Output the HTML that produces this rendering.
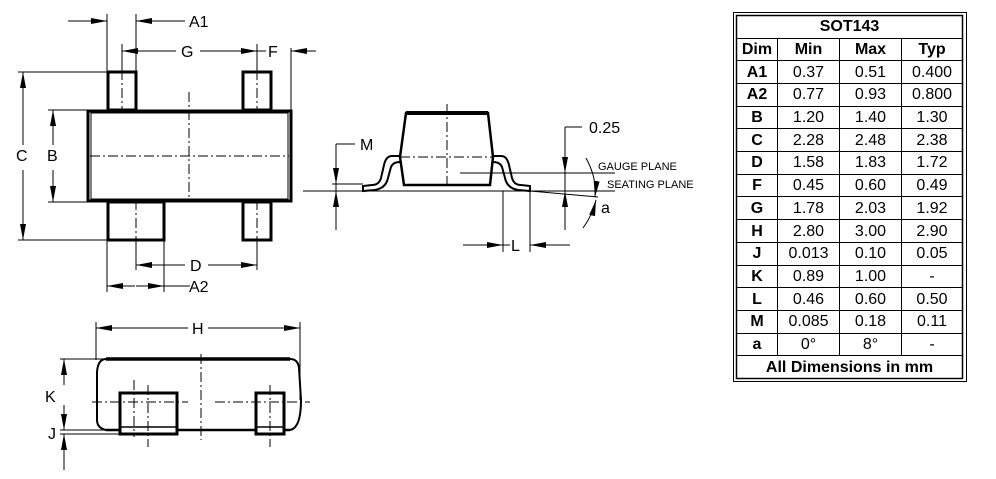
<!DOCTYPE html>
<html><head><style>
body{margin:0;background:#fff;width:996px;height:479px;overflow:hidden}
svg{position:absolute;left:0;top:0}
text{font-family:"Liberation Sans",Arial,sans-serif;fill:#000}
.t{font-size:16px}
td{border:1px solid #000;padding:0;height:21px;line-height:21px}
tr:first-child td{border-top:none}
td:first-child{border-left:none}
td:last-child{border-right:none}
tr:last-child td{border-bottom:none}
td:nth-child(2){width:61px}td:nth-child(3){width:61px}
</style></head><body>
<svg width="996" height="479" viewBox="0 0 996 479">
<defs>
<marker id="a" viewBox="0 0 16 6" refX="16" refY="3" markerWidth="16" markerHeight="6" markerUnits="userSpaceOnUse" orient="auto"><path d="M0,0L16,3L0,6z" fill="#000"/></marker>
</defs>
<g stroke="#000" fill="none">
<!-- top view -->
<rect x="108" y="72" width="28" height="38" stroke-width="3"/>
<rect x="243" y="72" width="28" height="38" stroke-width="3"/>
<rect x="108" y="202" width="56" height="38" stroke-width="3"/>
<rect x="243" y="202" width="28" height="38" stroke-width="3"/>
<rect x="88" y="111" width="203" height="90" stroke-width="3" fill="#fff"/>
<rect x="91" y="113" width="197" height="86" stroke-width="1"/>
<g stroke-width="1" stroke-dasharray="10,3,2,3">
<line x1="189" y1="92" x2="189" y2="200"/>
<line x1="90" y1="156" x2="289" y2="156"/>
<line x1="122" y1="70" x2="122" y2="112"/>
<line x1="257" y1="70" x2="257" y2="112"/>
<line x1="136" y1="200" x2="136" y2="240"/>
<line x1="257" y1="200" x2="257" y2="240"/>
</g>
<g stroke-width="1">
<line x1="107" y1="14" x2="107" y2="72"/><line x1="136" y1="14" x2="136" y2="72"/>
<line x1="68" y1="21" x2="107" y2="21" marker-end="url(#a)"/>
<line x1="185" y1="21" x2="136" y2="21" marker-end="url(#a)"/>
<line x1="122" y1="44" x2="122" y2="72"/><line x1="257" y1="44" x2="257" y2="72"/>
<line x1="176" y1="51" x2="122" y2="51" marker-end="url(#a)"/>
<line x1="200" y1="51" x2="257" y2="51" marker-end="url(#a)"/>
<line x1="257" y1="51" x2="266" y2="51"/>
<line x1="291" y1="48" x2="291" y2="110"/>
<line x1="316" y1="51" x2="291" y2="51" marker-end="url(#a)"/>
<line x1="18" y1="72" x2="108" y2="72"/><line x1="18" y1="240" x2="108" y2="240"/>
<line x1="23" y1="145" x2="23" y2="72" marker-end="url(#a)"/>
<line x1="23" y1="170" x2="23" y2="240" marker-end="url(#a)"/>
<line x1="48" y1="110" x2="88" y2="110"/><line x1="48" y1="202" x2="88" y2="202"/>
<line x1="53" y1="145" x2="53" y2="110" marker-end="url(#a)"/>
<line x1="53" y1="170" x2="53" y2="202" marker-end="url(#a)"/>
<line x1="303" y1="191" x2="345" y2="191"/>
<line x1="136" y1="240" x2="136" y2="270"/><line x1="257" y1="240" x2="257" y2="270"/>
<line x1="185" y1="265" x2="136" y2="265" marker-end="url(#a)"/>
<line x1="208" y1="265" x2="257" y2="265" marker-end="url(#a)"/>
<line x1="107" y1="240" x2="107" y2="292"/><line x1="164" y1="240" x2="164" y2="292"/>
<line x1="135" y1="286" x2="107" y2="286" marker-end="url(#a)"/>
<line x1="136" y1="286" x2="164" y2="286" marker-end="url(#a)"/>
<line x1="164" y1="286" x2="190" y2="286"/>
</g>
<!-- side view -->
<path d="M406,113L488,113L493,157L490,185L404,185L400,157Z" stroke-width="2.5" fill="#fff"/>
<line x1="406" y1="113" x2="488" y2="113" stroke-width="4"/>
<path d="M400,156L392,156Q386,156 384,165L381,178Q379,185 372,185L363,186L363,191L375,190Q386,188 388,178L391,167Q393,162 400,162" stroke-width="2"/>
<path d="M493,156L501,156Q507,156 509,165L512,178Q514,185 521,185L530,186L530,191L518,190Q507,188 505,178L502,167Q500,162 493,162" stroke-width="2"/>
<g stroke-width="1">
<line x1="447" y1="104" x2="447" y2="188" stroke-dasharray="10,3,2,3"/>
<line x1="400" y1="157" x2="493" y2="157" stroke-dasharray="10,3,2,3"/>
<line x1="320" y1="191" x2="615" y2="191"/>
<line x1="460" y1="173" x2="615" y2="173"/>
<line x1="530" y1="191" x2="598" y2="197"/>
<line x1="355" y1="144" x2="336" y2="144"/><line x1="336" y1="144" x2="336" y2="230"/>
<line x1="336" y1="160" x2="336" y2="184" marker-end="url(#a)"/>
<line x1="336" y1="215" x2="336" y2="191" marker-end="url(#a)"/>
<line x1="332" y1="184" x2="363" y2="184"/>
<line x1="582" y1="127" x2="565" y2="127"/><line x1="565" y1="127" x2="565" y2="230"/>
<line x1="565" y1="150" x2="565" y2="173" marker-end="url(#a)"/>
<line x1="565" y1="212" x2="565" y2="191" marker-end="url(#a)"/>
<path d="M586,158Q597,178 595,197" marker-end="url(#a)"/>
<path d="M583,228Q592,216 596,200" marker-end="url(#a)"/>
<line x1="503" y1="191" x2="503" y2="252"/><line x1="530" y1="191" x2="530" y2="252"/>
<line x1="463" y1="245" x2="503" y2="245" marker-end="url(#a)"/>
<line x1="570" y1="245" x2="530" y2="245" marker-end="url(#a)"/>
<line x1="503" y1="245" x2="510" y2="245"/>
</g>
<!-- bottom view -->
<path d="M106,359L290,359Q298,359 299,368L301,400Q301,428 290,430L106,430Q97,428 97,420L97,372Q98,359 106,359Z" stroke-width="2"/>
<line x1="106" y1="359" x2="290" y2="359" stroke-width="3.5"/>
<line x1="106" y1="430" x2="290" y2="430" stroke-width="2.5"/>
<rect x="120" y="393" width="57" height="41" stroke-width="3" fill="#fff"/>
<rect x="256" y="393" width="28" height="41" stroke-width="3" fill="#fff"/>
<line x1="120" y1="427" x2="177" y2="427" stroke-width="1.5"/>
<line x1="256" y1="427" x2="284" y2="427" stroke-width="1.5"/>
<g stroke-width="1">
<line x1="201" y1="354" x2="201" y2="440" stroke-dasharray="10,3,2,3"/>
<line x1="92" y1="402" x2="188" y2="402" stroke-dasharray="10,3,2,3"/>
<line x1="215" y1="402" x2="310" y2="402" stroke-dasharray="10,3,2,3"/>
<line x1="134" y1="380" x2="134" y2="437" stroke-dasharray="10,3,2,3"/>
<line x1="148" y1="385" x2="148" y2="447" stroke-dasharray="10,3,2,3"/>
<line x1="270" y1="385" x2="270" y2="447" stroke-dasharray="10,3,2,3"/>
<line x1="96" y1="322" x2="96" y2="360"/><line x1="300" y1="322" x2="300" y2="400"/>
<line x1="188" y1="328" x2="96" y2="328" marker-end="url(#a)"/>
<line x1="208" y1="328" x2="300" y2="328" marker-end="url(#a)"/>
<line x1="60" y1="359" x2="106" y2="359"/>
<line x1="60" y1="430" x2="120" y2="430"/><line x1="60" y1="434" x2="120" y2="434"/>
<line x1="64" y1="385" x2="64" y2="359" marker-end="url(#a)"/>
<line x1="64" y1="405" x2="64" y2="430" marker-end="url(#a)"/>
<line x1="64" y1="470" x2="64" y2="434" marker-end="url(#a)"/>
</g>
</g>
<g class="t">
<text x="189" y="27">A1</text>
<text x="181" y="57">G</text>
<text x="268" y="57">F</text>
<text x="16" y="161">C</text>
<text x="47" y="161">B</text>
<text x="190" y="271">D</text>
<text x="189" y="292">A2</text>
<text x="360" y="150">M</text>
<text x="589" y="133">0.25</text>
<text x="601" y="213">a</text>
<text x="511" y="251">L</text>
<text x="192" y="334">H</text>
<text x="45" y="402">K</text>
<text x="48" y="439">J</text>
</g>
<text x="598" y="170" style="font-size:11px">GAUGE PLANE</text>
<text x="607" y="188" style="font-size:11px">SEATING PLANE</text>
<g fill="none" stroke="#000">
<rect x="733.5" y="12.5" width="233" height="369" stroke-width="1"/>
<rect x="736.5" y="15.5" width="226" height="363" stroke-width="1.5"/>
</g>
</svg>
<table style="position:absolute;left:737px;top:16px;width:225px;height:362px;border-collapse:collapse;font-family:'Liberation Sans',Arial,sans-serif;font-size:16px;text-align:center">
<tr><td colspan="4" style="font-weight:bold;border-bottom:1.5px solid #000">SOT143</td></tr>
<tr style="font-weight:bold"><td style="width:40px">Dim</td><td>Min</td><td>Max</td><td>Typ</td></tr>
<tr><td><b>A1</b></td><td>0.37</td><td>0.51</td><td>0.400</td></tr>
<tr><td><b>A2</b></td><td>0.77</td><td>0.93</td><td>0.800</td></tr>
<tr><td><b>B</b></td><td>1.20</td><td>1.40</td><td>1.30</td></tr>
<tr><td><b>C</b></td><td>2.28</td><td>2.48</td><td>2.38</td></tr>
<tr><td><b>D</b></td><td>1.58</td><td>1.83</td><td>1.72</td></tr>
<tr><td><b>F</b></td><td>0.45</td><td>0.60</td><td>0.49</td></tr>
<tr><td><b>G</b></td><td>1.78</td><td>2.03</td><td>1.92</td></tr>
<tr><td><b>H</b></td><td>2.80</td><td>3.00</td><td>2.90</td></tr>
<tr><td><b>J</b></td><td>0.013</td><td>0.10</td><td>0.05</td></tr>
<tr><td><b>K</b></td><td>0.89</td><td>1.00</td><td>-</td></tr>
<tr><td><b>L</b></td><td>0.46</td><td>0.60</td><td>0.50</td></tr>
<tr><td><b>M</b></td><td>0.085</td><td>0.18</td><td>0.11</td></tr>
<tr><td><b>a</b></td><td>0°</td><td>8°</td><td>-</td></tr>
<tr><td colspan="4" style="font-weight:bold">All Dimensions in mm</td></tr>
</table>
</body></html>
